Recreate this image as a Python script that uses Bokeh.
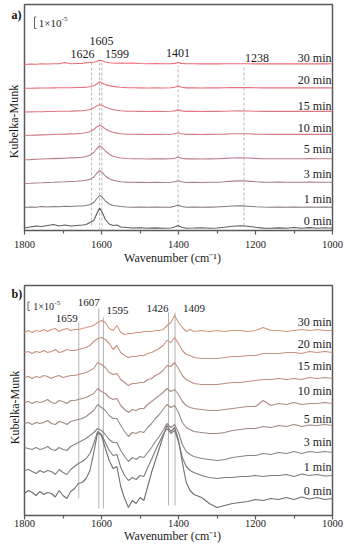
from bokeh.plotting import figure
from bokeh.models import Range1d, FixedTicker
from bokeh.layouts import column
from bokeh.embed import file_html
from bokeh.resources import INLINE
from bokeh.core.properties import value
import math

# ---------------- data ----------------
times = ["0 min", "1 min", "3 min", "5 min", "10 min", "15 min", "20 min", "30 min"]
major_ticks = [1800, 1600, 1400, 1200, 1000]
minor_ticks = [1700, 1500, 1300, 1100]
tick_labels = ["1800", "1600", "1400", "1200", "1000"]

# panel a  (Kubelka-Munk, a.u.; scale bar = 1e-5)
wn_a = [1800, 1785, 1770, 1755, 1740, 1725, 1710, 1695, 1680, 1665,
        1650, 1640, 1630, 1620, 1612, 1605, 1598, 1590, 1580, 1570,
        1560, 1550, 1535, 1520, 1500, 1480, 1460, 1440, 1420, 1410,
        1401, 1392, 1380, 1360, 1340, 1320, 1300, 1280, 1260, 1240,
        1220, 1200, 1180, 1160, 1140, 1120, 1100, 1080, 1060, 1040,
        1020, 1000]
a_0min = [0.5, 1.5, 2.5, 2, 3, 4, 2.5, 3.5, 2.5, 3,
          3.5, 4, 6, 8, 15, 20.5, 16, 9, 4.5, 3,
          3.5, 1.5, 1, 0.5, 0.8, 0.3, 0.6, 0.3, 0.5, 1.5,
          3, 1.2, 0.3, 0.5, 0.8, 0.3, 0.5, 1.2, 2.3, 2.8,
          2.3, 1.2, 0.4, 0.3, 0.6, 0.2, 1, 0.3, 0.9, 0.2,
          0.8, 0.3]
a_1min = [0, 0.5, 0.3, 1, 0.5, 1, 0.8, 1.2, 1, 1.5,
          1.5, 2, 3, 5, 9, 12, 10.5, 6.5, 3.5, 2,
          1.5, 1, 0.5, 0.3, 0.4, 0.2, 0.4, 0.2, 0.4, 1.2,
          2.5, 1, 0.3, 0.4, 0.2, 0.4, 0.5, 1, 1.5, 1.6,
          1.2, 0.8, 0.5, 0.3, 0.4, 0.3, 0.5, 0.3, 0.5, 0.3,
          0.4, 0.3]
a_3min = [-1, -0.8, -0.5, -0.3, 0, 0.2, 0.5, 0.7, 1, 1.3,
          1.7, 2.2, 3.2, 5.5, 9.5, 11.7, 10, 6.5, 3.8, 2.3,
          1.5, 0.8, 0.4, 0.2, 0.1, 0, 0.2, 0, 0.2, 0.8,
          1.8, 0.7, 0, 0.1, 0, 0.2, 0.3, 0.8, 1.4, 1.7,
          1.4, 0.8, 0.4, 0.2, 0.4, 0.2, 0.3, 0.2, 0.5, 0.2,
          0.3, 0.2]
a_5min = [-0.8, -0.6, -0.3, 0, 0.2, 0.4, 0.6, 0.8, 1.1, 1.4,
          1.8, 2.5, 3.8, 6.5, 10.5, 13, 11.5, 8, 4.8, 2.8,
          1.8, 1, 0.5, 0.3, 0.2, 0, 0.2, 0.1, 0.2, 0.8,
          2, 0.8, 0.1, 0.2, 0, 0.1, 0.2, 0.6, 1, 1.2,
          1, 0.6, 0.3, 0.2, 0.3, 0.2, 0.3, 0.2, 0.4, 0.2,
          0.3, 0.2]
a_10min = [-1, -0.8, -0.6, -0.4, -0.2, 0, 0.2, 0.4, 0.6, 0.8,
           1.2, 1.8, 2.8, 5, 7.8, 9, 8, 5.6, 3.6, 2.2,
           1.4, 0.8, 0.4, 0.2, 0.1, 0, 0.1, 0, 0.2, 0.7,
           1.8, 0.7, 0.1, 0.1, 0, 0.1, 0.2, 0.4, 0.7, 0.8,
           0.7, 0.4, 0.2, 0.1, 0.2, 0.1, 0.2, 0.1, 0.3, 0.1,
           0.2, 0.1]
a_15min = [-0.5, -0.4, -0.3, -0.2, 0, 0, 0.2, 0.3, 0.4, 0.6,
           0.8, 1.2, 2, 3.6, 5.6, 6.7, 6.1, 4.5, 3, 1.9,
           1.2, 0.7, 0.4, 0.2, 0.1, 0, 0.1, 0, 0.2, 0.6,
           1.6, 0.6, 0.1, 0.1, 0, 0.1, 0.1, 0.3, 0.5, 0.6,
           0.5, 0.3, 0.1, 0.1, 0.2, 0.1, 0.2, 0.1, 0.2, 0.1,
           0.2, 0.1]
a_20min = [-0.3, -0.2, -0.1, 0, 0, 0.1, 0.2, 0.3, 0.3, 0.5,
           0.6, 0.8, 1.3, 2.2, 4, 6.3, 4.8, 3.4, 2.4, 1.6,
           1.1, 0.7, 0.4, 0.2, 0.1, 0, 0.1, 0, 0.2, 0.7,
           2, 0.7, 0.1, 0.1, 0, 0.1, 0.1, 0.2, 0.4, 0.5,
           0.4, 0.2, 0.1, 0.1, 0.2, 0.1, 0.2, 0.1, 0.2, 0.1,
           0.2, 0.1]
a_30min = [-0.5, 0, -0.3, 0.2, 0, 0.3, 0.2, 1.5, 0.3, 0.5,
           0.6, 1.2, 1.5, 1.8, 2.5, 3.8, 3.2, 2, 1.2, 1,
           0.8, 1, 0.8, 1, 0.5, 0.3, 0.4, 0.2, 0.3, 0.6,
           1.5, 0.6, 0.2, 0.3, 0.1, 0.2, 0.1, 0.2, 0.2, 0.3,
           0.2, 0.1, 0.1, 0.2, 0.1, 0.2, 0.1, 0.2, 0.1, 0.2,
           0.1, 0.2]
a_offsets = [2, 23, 48, 71.5, 96, 119, 142.5, 166.5]
a_scale = 11.5            # height of 1e-5 in plot units
a_marks = [1626, 1605, 1599, 1401, 1230]
a_mark_labels = ["1626", "1605", "1599", "1401", "1238"]

# panel b
wn_b = [1800, 1790, 1780, 1770, 1760, 1750, 1740, 1730, 1720, 1710,
        1700, 1690, 1680, 1670, 1660, 1650, 1640, 1630, 1620, 1610,
        1600, 1590, 1580, 1570, 1560, 1550, 1540, 1530, 1520, 1510,
        1500, 1490, 1480, 1470, 1460, 1450, 1440, 1430, 1420, 1410,
        1400, 1390, 1380, 1370, 1360,
        1340, 1320, 1300, 1280, 1260, 1240, 1220, 1200, 1180, 1160,
        1140, 1120, 1100, 1080, 1060, 1040, 1020, 1000]
b_0min = [5, 8, 6, 3, 7, 4, 6, 5, 1.5, 8,
          3, 0, 7, 10, 15, 16, 20, 28, 46, 66,
          63, 50, 38, 30, 32, 12, 0, -9, -2, -5,
          1, -2, 12, 26, 38, 50, 62, 73, 67, 71,
          58, 36, 16, 8, 4,
          1, -5, -9, -7, -5, -4, -3, -1, -2, 0,
          -1, 1, -1, 1.5, -0.5, 1, -1, 0]
b_1min = [5, 6, 4, 2, 5, 3, 5, 4, 1, 6,
          3, 1, 6, 9, 12, 14, 17, 22, 32, 44,
          41, 33, 25, 20, 21, 8, 0, -5, -2, -4,
          0, -1, 8, 16, 25, 33, 41, 47, 42, 45,
          34, 18, 9, 5, 3,
          0, -2, -3, -2, -2, -1, -1, 0, -1, 0,
          0, 1, -1, 1.5, 0, 1, -0.5, 0]
b_3min = [5, 4, 3, 5, 3, 4, 6, 3, 2, 5,
          3, 2, 6, 8, 10, 12, 14, 17, 20, 24,
          22, 18, 13, 10, 10, 2, -4, -9, -5, -7,
          -4, -5, 0, 5, 11, 16, 22, 29, 25, 28,
          20, 8, 1, -2, -4,
          -6, -7, -8, -7, -5, -4, -3, -3, -1, -2,
          0, -1, 1, -1, 1, 0, 1, 0]
b_5min = [2, 3, 1, 3, 2, 3, 5, 2, 1, 4,
          3, 1, 4, 5, 6, 7, 9, 12, 15, 21,
          18, 15, 10, 7, 7, 0, -6, -11, -7, -8,
          -6, -7, -2, 2, 7, 11, 16, 21, 18, 20,
          13, 3, -2, -4, -6,
          -7, -8, -8, -7, -5, -4, -3, -3, -1, -2,
          0, -1, 1, -1, 0.5, 0, 1, 0]
b_10min = [1, 2, 0, 2, 1, 2, 4, 1, 0, 3,
           2, 0, 3, 3, 4, 5, 6, 8, 10, 15,
           12, 10, 6, 4, 5, -2, -6, -9, -6, -7,
           -5, -5, -1, 2, 5, 8, 11, 15, 12, 14,
           9, 2, -2, -4, -5,
           -6, -7, -7, -6, -5, -4, -3, -3, 3, -2,
           0, -1, 1, -1, 0, 0, 1, 0]
b_15min = [1, 2, 0, 2, 1, 3, 2, 0, 2, 3,
           1, 2, 3, 3, 4, 5, 6, 8, 10, 16,
           14, 11, 6, 4, 5, -1, -4, -7, -5, -5,
           -4, -4, -1, 0, 3, 5, 8, 13, 12, 16,
           10, 3, -1, -3, -5,
           -6, -6, -6, -5, -4, -4, -3, -2, -1, -1,
           0, -1, 0, -1, 1, 0, 1, 0]
b_20min = [0, 1, -1, 1, 0, 2, 0, 1, 3, 0,
           1, 3, 2, 2, 3, 4, 5, 7, 11, 14,
           15, 13, 9, 3, 7, 0, -3, -5, -4, -4,
           -3, -3, -1, 0, 2, 4, 7, 12, 10, 15,
           9, 2, -2, -3, -5,
           -6, -6, -6, -5, -4, -4, -3, -3, -1, -1,
           -1, 0, 0, -1, 1, 0, 1, 0]
b_30min = [-2, 0, -2, 0, -1, 1, -1, 1, 2, -1,
           1, 2, 0, 1, 1, 2, 3, 4, 5, 8,
           10, 8, 2, 0, 5, -2, -4, -3, -3, -2,
           -2, -1, -1, -1, 0, 0, 1, 5, 8, 15,
           8, 3, -1, 1, -1,
           0, -1, 0, -1, 0, 0, -1, 0, 3, 0,
           0, -1, 0, 1, 0, 1, 0, 0]
b_offsets = [17, 40, 63, 90, 112, 137, 163, 185]
b_scale = 8.5
b_marks = [1659, 1607, 1595, 1426, 1409]
b_mark_labels = ["1659", "1607", "1595", "1426", "1409"]

# ---------------- styles / layout ----------------
SERIF = "Liberation Serif"
FRAME = "#5a5a5a"
a_colors = ["#5e5e5e", "#857a7d", "#a77f86", "#c07d88", "#d47a86", "#e07682", "#e8717d", "#f06b78"]
b_colors = ["#6e6e6e", "#7d7b7a", "#8c8480", "#9b8a83", "#ab8d83", "#b98f82", "#c69280", "#d2967f"]

W = 344
PX_PER_CM = 308.0 / 800.0          # plot box: 1800 -> 1000 over 308 px
X_LEFT = 1800 + 24 / PX_PER_CM     # box starts 24 px from the left edge
X_RIGHT = 1000 - (W - 332) / PX_PER_CM


def base_fig(height, ybottom, ytop, box_top, label_standoff, title_standoff):
    p = figure(width=W, height=height, x_range=Range1d(X_LEFT, X_RIGHT),
               y_range=Range1d(ybottom, ytop),
               output_backend="svg", toolbar_location=None, y_axis_location=None,
               min_border_left=0, min_border_right=0, min_border_top=0, min_border_bottom=0)
    p.grid.visible = False
    p.outline_line_color = None
    p.background_fill_color = "white"
    p.border_fill_color = "white"
    # plot box
    p.quad(left=[1800], right=[1000], bottom=[0], top=[box_top], fill_color=None,
           line_color=FRAME, line_width=1.5)
    ax = p.xaxis[0]
    ax.fixed_location = 0
    ax.ticker = FixedTicker(ticks=major_ticks, minor_ticks=minor_ticks)
    ax.major_label_overrides = {t: s for t, s in zip(major_ticks, tick_labels)}
    ax.axis_line_color = None
    ax.major_tick_line_color = FRAME
    ax.major_tick_line_width = 1.2
    ax.major_tick_out = 4
    ax.major_tick_in = 0
    ax.minor_tick_line_color = FRAME
    ax.minor_tick_line_width = 1.2
    ax.minor_tick_out = 3
    ax.minor_tick_in = 0
    ax.major_label_text_font = SERIF
    ax.major_label_text_font_size = "10.5px"
    ax.major_label_text_color = "#222222"
    ax.major_label_standoff = label_standoff
    ax.axis_label = "Wavenumber (cm\u207b\u00b9)"
    ax.axis_label_text_font = SERIF
    ax.axis_label_text_font_size = "12px"
    ax.axis_label_text_font_style = "normal"
    ax.axis_label_text_color = "#222222"
    ax.axis_label_standoff = title_standoff
    return p


def panel(p, wn, series, offsets, colors, gap, tag, tag_y, ylab_y, ylab_dx,
          marks, mark_labels, mark_top, mark_bottom, mark_dx, mark_y, mark_size,
          mark_dash, mark_color, bar_x, bar_y, bar_h, bar_text_x, bar_text_size, sup_dx, sup_dy):
    # vertical marker lines
    p.segment(x0=marks, x1=marks, y0=mark_bottom, y1=mark_top, line_color=mark_color,
              line_width=0.8, line_dash=mark_dash)
    # spectra
    for vals, off, col in zip(series, offsets, colors):
        p.line(wn, [off + v for v in vals], line_color=col, line_width=1.1)
    # time labels (right aligned at the right edge of the box)
    p.text(x=[1000] * len(times), y=[o + g for o, g in zip(offsets, gap)], text=times,
           text_align="right", text_baseline="middle", x_offset=-1,
           text_font=value(SERIF), text_font_size="12px", text_color="#1a1a1a")
    # peak labels
    p.text(x=marks, y=mark_y, text=mark_labels, x_offset=mark_dx,
           text_align="center", text_baseline="middle",
           text_font=value(SERIF), text_font_size=mark_size, text_color="#1a1a1a")
    # scale bar  [ 1x10^-5
    tick = 5.0
    p.segment(x0=[bar_x, bar_x, bar_x], x1=[bar_x, bar_x - tick, bar_x - tick],
              y0=[bar_y, bar_y, bar_y + bar_h], y1=[bar_y + bar_h, bar_y, bar_y + bar_h],
              line_color="#666666", line_width=1)
    p.text(x=[bar_text_x], y=[bar_y + bar_h / 2], text=["1\u00d710"], text_align="left",
           text_baseline="middle", text_font=value(SERIF), text_font_size=bar_text_size,
           text_color="#1a1a1a")
    p.text(x=[bar_text_x], y=[bar_y + bar_h / 2 + sup_dy], x_offset=sup_dx, text=["-5"],
           text_align="left", text_baseline="middle", text_font=value(SERIF),
           text_font_size="7px", text_color="#1a1a1a")
    # panel tag
    p.text(x=[1800], y=[tag_y], x_offset=-13, text=[tag], text_align="left",
           text_baseline="middle", text_font=value(SERIF), text_font_style="bold",
           text_font_size="12px", text_color="#111111")
    # y axis title
    p.text(x=[1800], y=[ylab_y], x_offset=ylab_dx, text=["Kubelka-Munk"], angle=math.pi / 2,
           text_align="center", text_baseline="middle", text_font=value(SERIF),
           text_font_size="12px", text_color="#1a1a1a")


a_series = [a_0min, a_1min, a_3min, a_5min, a_10min, a_15min, a_20min, a_30min]
b_series = [b_0min, b_1min, b_3min, b_5min, b_10min, b_15min, b_20min, b_30min]

# panel a: page y 0..272 ; unit 0 = box bottom (page 230), unit 226 = box top (page 4)
pa = base_fig(272, -42, 230, 226, 6, 0)
panel(pa, wn_a, a_series, a_offsets, a_colors,
      gap=[8, 8.7, 8.7, 10.2, 6.3, 6, 8.5, 6.2],
      tag="a)", tag_y=216, ylab_y=109, ylab_dx=-11,
      marks=a_marks, mark_labels=a_mark_labels,
      mark_top=[168, 168, 168, 165, 165], mark_bottom=[5, 0, 0, 3, 5],
      mark_dx=[-9, 2, 15, 0, 13], mark_y=[177, 190, 177, 178, 173], mark_size="12px",
      mark_dash="3 2", mark_color="#aaaaaa",
      bar_x=1774, bar_y=202, bar_h=a_scale, bar_text_x=1763, bar_text_size="11px",
      sup_dx=23, sup_dy=3.5)

# panel b: page y 272..546 ; unit 0 = box bottom (page 515)
pb = base_fig(274, -31, 243, 230, 0, -1)
panel(pb, wn_b, b_series, b_offsets, b_colors,
      gap=[8, 8.3, 10.3, 6.7, 13, 13, 8.7, 8.3],
      tag="b)", tag_y=222, ylab_y=108, ylab_dx=-10,
      marks=b_marks, mark_labels=b_mark_labels,
      mark_top=[193, 207, 198, 203, 203], mark_bottom=[17, 7, 7, 10, 10],
      mark_dx=[-12, -10, 14, -11, 19], mark_y=[197, 213, 205, 207, 207], mark_size="11px",
      mark_dash="solid", mark_color="#a0a0a0",
      bar_x=1791, bar_y=205, bar_h=b_scale, bar_text_x=1777, bar_text_size="10px",
      sup_dx=21, sup_dy=3.5)

layout = column(pa, pb)
open("out.html", "w").write(file_html(layout, INLINE))
